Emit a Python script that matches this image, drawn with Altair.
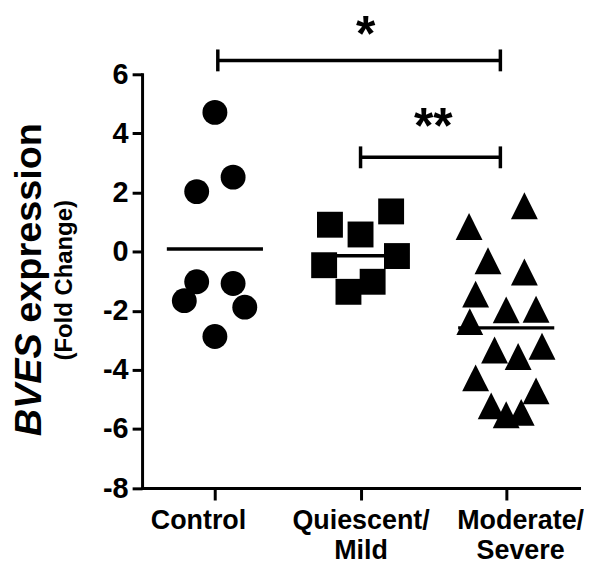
import json
import altair as alt
import pandas as pd

FONT = "Liberation Sans"

# ---------------- data ----------------
categories = ["Control", "Quiescent/Mild", "Moderate/Severe"]
label_lines = [["Control"], ["Quiescent/", "Mild"], ["Moderate/", "Severe"]]

control_values = [4.71, 2.52, 2.03, -1.02, -1.08, -1.66, -1.88, -2.87]
control_jitter = [0.0, 0.125, -0.125, -0.125, 0.125, -0.21, 0.205, 0.0]

quiescent_values = [0.91, 0.58, 1.36, -0.46, -0.15, -1.02, -1.36]
quiescent_jitter = [-0.21, 0.0, 0.21, -0.25, 0.25, 0.083, -0.083]

moderate_values = [1.55, 0.85, -0.31, -0.69, -1.44, -1.97, -1.95, -2.37,
                   -3.33, -3.20, -3.55, -4.27, -4.71, -5.22, -5.52, -5.44]
moderate_jitter = [0.125, -0.255, -0.125, 0.125, -0.21, 0.0, 0.205, -0.25,
                   -0.08, 0.246, 0.082, -0.21, 0.205, -0.103, 0.0, 0.103]

group_means = [0.09, -0.14, -2.58]

y_ticks = [-8, -6, -4, -2, 0, 2, 4, 6]

sig_from = [0.02, 1.0]
sig_to = [1.96, 1.96]
sig_level = [6.47, 3.19]
sig_text = ["*", "**"]
sig_text_x = [1.035, 1.5]
sig_text_y = [6.78, 3.66]

gene_label = "BVES"
measure_label = "expression"
unit_label = "(Fold Change)"

# ---------------- tables ----------------
rows = []
for gi, (vals, jit) in enumerate([(control_values, control_jitter),
                                  (quiescent_values, quiescent_jitter),
                                  (moderate_values, moderate_jitter)]):
    for v, j in zip(vals, jit):
        rows.append({"group": categories[gi], "x": gi + j, "value": v})
points_df = pd.DataFrame(rows)

MEAN_HALF = 0.33
means_df = pd.DataFrame({
    "x": [i - MEAN_HALF for i in range(len(categories))],
    "x2": [i + MEAN_HALF for i in range(len(categories))],
    "value": group_means,
})

CAP = 0.37
sig_df = pd.DataFrame({"x": sig_from, "x2": sig_to, "y": sig_level})
caps_df = pd.DataFrame({
    "x": sig_from + sig_to,
    "y": [l - CAP for l in sig_level] * 2,
    "y2": [l + CAP for l in sig_level] * 2,
})
stars_df = pd.DataFrame({"x": sig_text_x, "y": sig_text_y, "t": sig_text})

# ---------------- scales / axes ----------------
x_scale = alt.Scale(domain=[-0.5, 2.5], nice=False, zero=False)
y_scale = alt.Scale(domain=[-8, 6], nice=False, zero=False)

parts = [f"datum.value == {i} ? {json.dumps(lines)}" for i, lines in enumerate(label_lines[:-1])]
label_expr = " : ".join(parts + [json.dumps(label_lines[-1])])

x_axis = alt.Axis(
    values=[0, 1, 2], labelExpr=label_expr, title=None, grid=False,
    domainColor="black", domainWidth=3, domainCap="square",
    tickColor="black", tickWidth=3, tickSize=12,
    labelFont=FONT, labelFontSize=27, labelFontWeight="bold", labelColor="black",
    labelPadding=8, labelLineHeight=30, labelFlush=False, labelOverlap=False,
    labelOffset={"condition": [{"test": "datum.value == 0", "value": -17},
                               {"test": "datum.value == 2", "value": 14}],
                 "value": 0},
)
y_axis = alt.Axis(
    values=y_ticks, title=None, grid=False, labelExpr="'' + datum.value",
    domainColor="black", domainWidth=3, domainCap="square",
    tickColor="black", tickWidth=3, tickSize=10,
    labelFont=FONT, labelFontSize=29, labelFontWeight="bold", labelColor="black",
    labelPadding=4, labelFlush=False, labelOverlap=False,
)

X = lambda f: alt.X(f, scale=x_scale, axis=x_axis)
Y = lambda f: alt.Y(f, scale=y_scale, axis=y_axis)

points = alt.Chart(points_df).mark_point(filled=True, opacity=1, color="black", strokeWidth=0).encode(
    x=X("x:Q"),
    y=Y("value:Q"),
    shape=alt.Shape("group:N", scale=alt.Scale(domain=categories,
                                               range=["circle", "square", "M0,-1L1,1L-1,1Z"]), legend=None),
    size=alt.Size("group:N", scale=alt.Scale(domain=categories, range=[625, 729, 660]), legend=None),
)

means = alt.Chart(means_df).mark_rule(color="black", strokeWidth=3.5).encode(
    x=X("x:Q"), x2="x2:Q", y=Y("value:Q"))

brackets = alt.Chart(sig_df).mark_rule(color="black", strokeWidth=3.5).encode(
    x=X("x:Q"), x2="x2:Q", y=Y("y:Q"))

caps = alt.Chart(caps_df).mark_rule(color="black", strokeWidth=3.5).encode(
    x=X("x:Q"), y=Y("y:Q"), y2="y2:Q")

stars = alt.Chart(stars_df).mark_text(font=FONT, fontSize=50, fontWeight="bold", color="black",
                                      align="center", baseline="alphabetic").encode(
    x=X("x:Q"), y=Y("y:Q"), text="t:N")

gene = alt.Chart(pd.DataFrame({"t": [gene_label]})).mark_text(
    font=FONT, fontSize=38, fontWeight="bold", fontStyle="italic", color="black",
    angle=270, align="right", baseline="alphabetic").encode(
    text="t:N", x=alt.value(-101.7), y=alt.value(260.2))

measure = alt.Chart(pd.DataFrame({"t": [measure_label]})).mark_text(
    font=FONT, fontSize=38, fontWeight="bold", color="black",
    angle=270, align="left", baseline="alphabetic").encode(
    text="t:N", x=alt.value(-101.7), y=alt.value(249.6))

unit = alt.Chart(pd.DataFrame({"t": [unit_label]})).mark_text(
    font=FONT, fontSize=24, fontWeight="bold", color="black",
    angle=270, align="center", baseline="alphabetic").encode(
    text="t:N", x=alt.value(-70.7), y=alt.value(207.0))

chart = alt.layer(points, means, brackets, caps, stars, gene, measure, unit).properties(
    width=439, height=415.7,
    padding={"left": 134.7, "top": 65.3, "right": 5, "bottom": 75},
    autosize=alt.AutoSizeParams(type="none"),
    background="white",
).configure_view(stroke=None)

chart.save("out.html", embed_options={"renderer": "svg", "actions": False})
